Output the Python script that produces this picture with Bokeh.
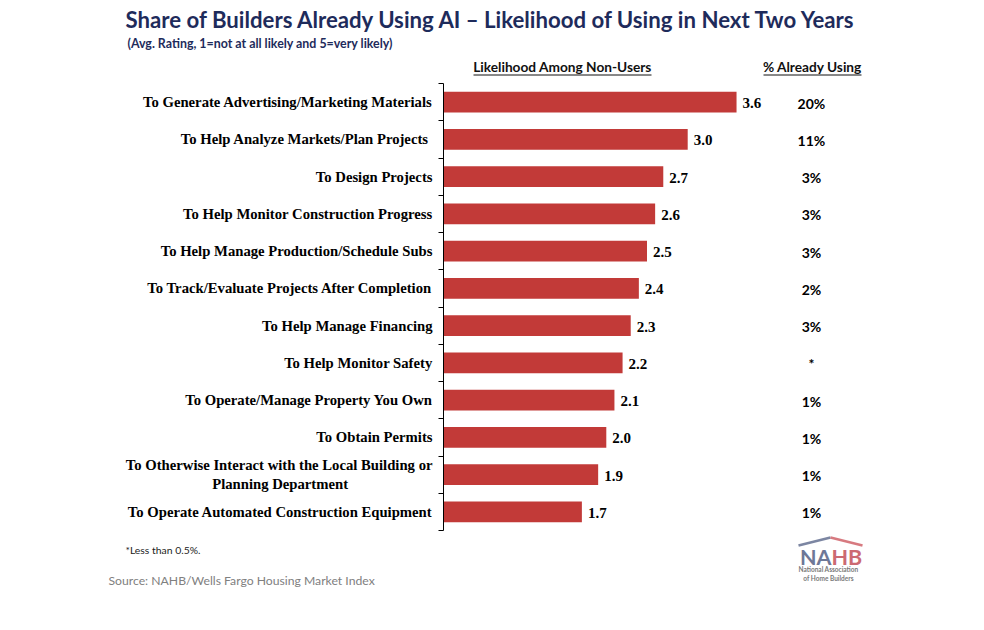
from bokeh.plotting import figure
from bokeh.models import Range1d, FixedTicker, Label, ColumnDataSource, Arrow, LinearAxis
from bokeh.core.properties import value
from bokeh.embed import file_html
from bokeh.resources import INLINE

categories = [
    "To Generate Advertising/Marketing Materials",
    "To Help Analyze Markets/Plan Projects ",
    "To Design Projects",
    "To Help Monitor Construction Progress",
    "To Help Manage Production/Schedule Subs",
    "To Track/Evaluate Projects After Completion",
    "To Help Manage Financing",
    "To Help Monitor Safety",
    "To Operate/Manage Property You Own",
    "To Obtain Permits",
    "To Otherwise Interact with the Local Building or\nPlanning Department" + "\u00a0" * 23,
    "To Operate Automated Construction Equipment",
]
likelihood = [3.6, 3.0, 2.7, 2.6, 2.5, 2.4, 2.3, 2.2, 2.1, 2.0, 1.9, 1.7]
pct_using = ["20%", "11%", "3%", "3%", "3%", "2%", "3%", "*", "1%", "1%", "1%", "1%"]

title_text = "Share of Builders Already Using AI \u2013 Likelihood of Using in Next Two Years"
subtitle_text = "(Avg. Rating, 1=not at all likely and 5=very likely)"
header_left = "Likelihood Among Non-Users"
header_right = "% Already Using"
footnote_text = "*Less than 0.5%."
source_text = "Source: NAHB/Wells Fargo Housing Market Index"

W, H = 968, 614
X0PX, PXU = 443.0, 81.4      # pixel of value 0, pixels per unit
Y0PX, PXC = 83.0, 37.25      # pixel of top of first category, pixels per category
n = len(categories)
PCT_X = 4.52

NAVY = "#1E2B5B"
RED = "#C23A38"

def dx(px):
    return (px - X0PX) / PXU

def dy(py):
    return (py - Y0PX) / PXC

p = figure(width=W, height=H, output_backend="svg", toolbar_location=None,
           x_range=Range1d(dx(0), dx(W)), y_range=Range1d(dy(H), dy(0)),
           x_axis_location=None, y_axis_location=None, min_border=0)
p.xgrid.visible = False
p.ygrid.visible = False
p.outline_line_color = None
p.background_fill_color = "white"
p.border_fill_color = "white"

centers = [i + 0.5 for i in range(n)]
src = ColumnDataSource(dict(
    y=centers, val=likelihood,
    lab=["%.1f" % v for v in likelihood],
    pct=pct_using, px=[PCT_X] * n,
))

p.hbar(y="y", right="val", left=0, height=0.56, source=src,
       fill_color=RED, line_color=None)

p.text(x="val", y="y", text="lab", source=src, x_offset=6, y_offset=1,
       text_align="left", text_baseline="middle",
       text_font=value("Liberation Serif"), text_font_style="bold",
       text_font_size="15px", text_color="black")

p.text(x="px", y="y", text="pct", source=src, y_offset=1,
       text_align="center", text_baseline="middle",
       text_font=value("Lato"), text_font_style="bold",
       text_font_size="14px", text_color="black")

ax = LinearAxis(fixed_location=0, bounds=(0, n))
ax.ticker = FixedTicker(ticks=centers, minor_ticks=list(range(n + 1)))
ax.major_label_overrides = {c: cat for c, cat in zip(centers, categories)}
ax.major_tick_out = 0
ax.major_tick_in = 0
ax.minor_tick_out = 5
ax.minor_tick_in = 0
ax.minor_tick_line_color = "black"
ax.axis_line_color = "black"
ax.major_label_standoff = 6
ax.major_label_text_font = "Liberation Serif"
ax.major_label_text_font_style = "bold"
ax.major_label_text_font_size = "14.7px"
ax.major_label_text_color = "black"
p.add_layout(ax, "left")

def label(x, y, text, size, color, align="left", bold=True):
    p.add_layout(Label(x=dx(x), y=dy(y), text=text, text_align=align,
                       text_baseline="middle", text_font="Lato",
                       text_font_style="bold" if bold else "normal",
                       text_font_size=size, text_color=color))

def line(x1, y1, x2, y2, color, width):
    p.add_layout(Arrow(end=None, x_start=dx(x1), y_start=dy(y1), x_end=dx(x2), y_end=dy(y2),
                       line_color=color, line_width=width))

# title & subtitle
label(125, 19, title_text, "22.2px", NAVY)
label(127, 43, subtitle_text, "12.4px", NAVY)

# column headers with underline
label(562, 66, header_left, "13.7px", "#111111", align="center")
label(812, 66, header_right, "13.7px", "#111111", align="center")
line(473, 74.5, 651, 74.5, "#111111", 1)
line(763, 74.5, 861, 74.5, "#111111", 1)

# footnote & source
label(125, 549, footnote_text, "10.4px", "#222222", bold=False)
label(108, 580, source_text, "12.2px", "#808080", bold=False)

# NAHB logo
line(798, 545, 830, 537, "#7C86A2", 2.5)
line(830, 537, 862, 545, "#D77A80", 2.5)
label(831, 556, "NA", "21.5px", "#6E7897", align="right")
label(831, 556, "HB", "21.5px", "#CC6A72", align="left")
label(828, 568.5, "National Association", "6.5px", "#7A7A7A", align="center")
label(828, 577.5, "of Home Builders", "6.5px", "#7A7A7A", align="center")

open("out.html", "w").write(file_html(p, INLINE))
